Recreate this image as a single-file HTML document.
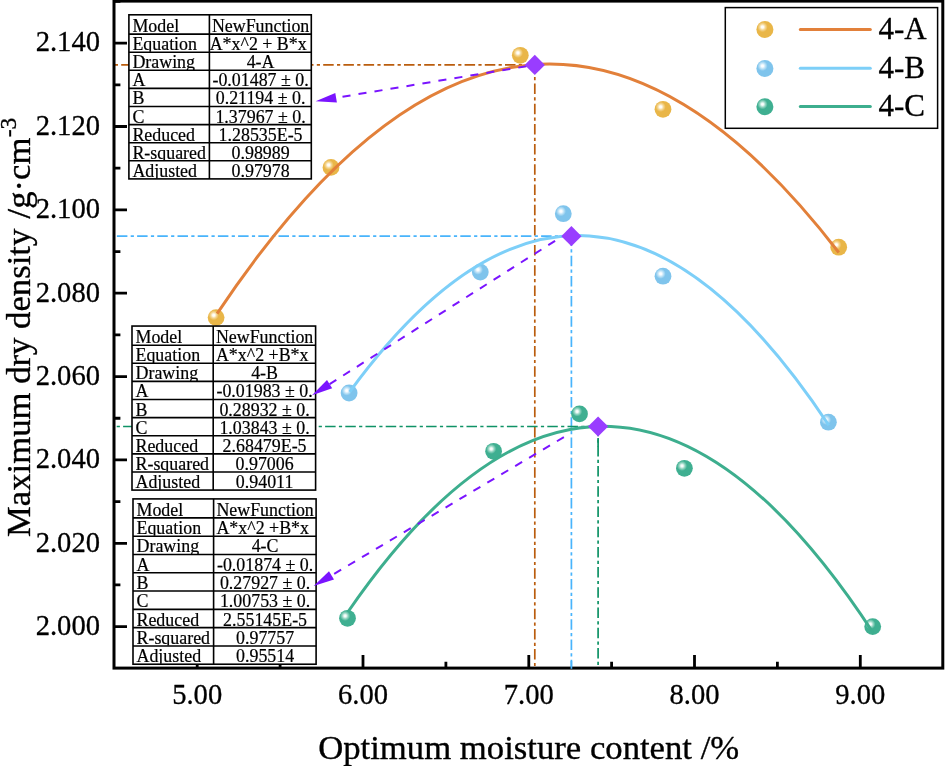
<!DOCTYPE html>
<html><head><meta charset="utf-8"><title>Compaction curves</title>
<style>
html,body{margin:0;padding:0;background:#fff}
svg{display:block;will-change:transform}
text{font-family:"Liberation Serif","Times New Roman",serif;fill:#000;stroke:#000;stroke-width:0.3px;stroke-linejoin:round}
.tk{font-size:28.6px}
.tb{font-size:17.9px;stroke-width:0.2px}
.lg{font-size:31px}
.ax{font-size:34.7px;stroke-width:0.35px}
</style></head><body>
<svg width="945" height="766" viewBox="0 0 945 766">
<defs>
<radialGradient id="gA" cx="0.36" cy="0.355" r="0.30"><stop offset="0" stop-color="#FFFFFF"/><stop offset="0.22" stop-color="#FFFDF6"/><stop offset="0.6" stop-color="#F4D590"/><stop offset="1" stop-color="#E9B648"/></radialGradient>
<radialGradient id="gB" cx="0.36" cy="0.355" r="0.30"><stop offset="0" stop-color="#FFFFFF"/><stop offset="0.22" stop-color="#F8FCFF"/><stop offset="0.6" stop-color="#B9E0F6"/><stop offset="1" stop-color="#7FC4EC"/></radialGradient>
<radialGradient id="gC" cx="0.36" cy="0.355" r="0.30"><stop offset="0" stop-color="#FFFFFF"/><stop offset="0.22" stop-color="#F2FBF8"/><stop offset="0.6" stop-color="#8FD3BF"/><stop offset="1" stop-color="#3FAF91"/></radialGradient>
</defs>
<rect width="945" height="766" fill="#fff"/>

<line x1="114.0" y1="64.9" x2="534.8" y2="64.9" stroke="#BA5D0E" stroke-width="1.7" stroke-dasharray="10.5 3.3 3.2 3.2" stroke-dashoffset="13.00"/>
<line x1="534.8" y1="64.9" x2="534.8" y2="669.1" stroke="#BA5D0E" stroke-width="1.7" stroke-dasharray="10.5 3.3 3.2 3.2" stroke-dashoffset="1.60"/>
<line x1="114.0" y1="236.2" x2="571.4" y2="236.2" stroke="#48B4FC" stroke-width="1.7" stroke-dasharray="10.5 3.3 3.2 3.2" stroke-dashoffset="17.30"/>
<line x1="571.4" y1="236.2" x2="571.4" y2="669.1" stroke="#48B4FC" stroke-width="1.7" stroke-dasharray="10.5 3.3 3.2 3.2" stroke-dashoffset="0.70"/>
<line x1="114.0" y1="426.5" x2="598.1" y2="426.5" stroke="#0F9266" stroke-width="1.7" stroke-dasharray="10.5 3.3 3.2 3.2" stroke-dashoffset="11.10"/>
<line x1="598.1" y1="426.5" x2="598.1" y2="669.1" stroke="#0F9266" stroke-width="1.7" stroke-dasharray="10.5 3.3 3.2 3.2" stroke-dashoffset="0.80"/>
<line x1="598.1" y1="438" x2="598.1" y2="446.5" stroke="#0F9266" stroke-width="1.7"/>
<circle cx="216.1" cy="317.6" r="8.4" fill="url(#gA)"/>
<circle cx="331" cy="167.4" r="8.4" fill="url(#gA)"/>
<circle cx="520.3" cy="55.3" r="8.4" fill="url(#gA)"/>
<circle cx="663" cy="109.3" r="8.4" fill="url(#gA)"/>
<circle cx="838.7" cy="247.2" r="8.4" fill="url(#gA)"/>
<circle cx="349.1" cy="393" r="8.4" fill="url(#gB)"/>
<circle cx="480.3" cy="272.1" r="8.4" fill="url(#gB)"/>
<circle cx="563.3" cy="213.7" r="8.4" fill="url(#gB)"/>
<circle cx="663" cy="276.2" r="8.4" fill="url(#gB)"/>
<circle cx="828.4" cy="422.2" r="8.4" fill="url(#gB)"/>
<circle cx="347.5" cy="618.3" r="8.4" fill="url(#gC)"/>
<circle cx="493.6" cy="451.3" r="8.4" fill="url(#gC)"/>
<circle cx="579.5" cy="413.9" r="8.4" fill="url(#gC)"/>
<circle cx="684.4" cy="468.3" r="8.4" fill="url(#gC)"/>
<circle cx="872.7" cy="626.6" r="8.4" fill="url(#gC)"/>
<path d="M217.09,313.62 Q527.93,-152.71 838.77,252.53" fill="none" stroke="#E2803A" stroke-width="3.0"/>
<path d="M349.72,391.82 Q589.27,63.38 828.82,425.25" fill="none" stroke="#7DCFF8" stroke-width="3.0"/>
<path d="M348.06,611.77 Q610.82,230.17 873.58,633.47" fill="none" stroke="#3DAE8E" stroke-width="3.0"/>
<rect x="114.0" y="1.1" width="828.8" height="667.0" fill="none" stroke="#000" stroke-width="3"/>
<path d="M114.0,626.65 h13 M114.0,543.29 h13 M114.0,459.93 h13 M114.0,376.57 h13 M114.0,293.21 h13 M114.0,209.85 h13 M114.0,126.49 h13 M114.0,43.13 h13 M114.0,584.97 h6.4 M114.0,501.61 h6.4 M114.0,418.25 h6.4 M114.0,334.89 h6.4 M114.0,251.53 h6.4 M114.0,168.17 h6.4 M114.0,84.81 h6.4 M114.0,1.45 h6.4 M197.2,668.1 v-13 M363.0,668.1 v-13 M528.8,668.1 v-13 M694.5,668.1 v-13 M860.3,668.1 v-13 M280.1,668.1 v-6.4 M445.9,668.1 v-6.4 M611.6,668.1 v-6.4 M777.4,668.1 v-6.4" stroke="#000" stroke-width="2.8" fill="none"/>
<text class="tk" x="100" y="634.9" text-anchor="end">2.000</text>
<text class="tk" x="100" y="551.5" text-anchor="end">2.020</text>
<text class="tk" x="100" y="468.2" text-anchor="end">2.040</text>
<text class="tk" x="100" y="384.8" text-anchor="end">2.060</text>
<text class="tk" x="100" y="301.5" text-anchor="end">2.080</text>
<text class="tk" x="100" y="218.1" text-anchor="end">2.100</text>
<text class="tk" x="100" y="134.7" text-anchor="end">2.120</text>
<text class="tk" x="100" y="51.4" text-anchor="end">2.140</text>
<text class="tk" x="197.2" y="703.8" text-anchor="middle">5.00</text>
<text class="tk" x="363.0" y="703.8" text-anchor="middle">6.00</text>
<text class="tk" x="528.8" y="703.8" text-anchor="middle">7.00</text>
<text class="tk" x="694.5" y="703.8" text-anchor="middle">8.00</text>
<text class="tk" x="860.3" y="703.8" text-anchor="middle">9.00</text>
<line x1="571.4" x2="571.4" y1="661" y2="668.8" stroke="#48B4FC" stroke-width="1.7"/>
<rect x="128.9" y="14.80" width="182.40" height="164.10" fill="#fff" stroke="#000" stroke-width="1.6"/>
<path d="M128.9,34.10 H311.3 M128.9,52.20 H311.3 M128.9,70.30 H311.3 M128.9,88.40 H311.3 M128.9,106.50 H311.3 M128.9,124.60 H311.3 M128.9,142.70 H311.3 M128.9,160.80 H311.3 M209.4,14.80 V178.90" stroke="#000" stroke-width="1.6" fill="none"/>
<clipPath id="c1"><rect x="128.9" y="14.80" width="182.40" height="18.90"/></clipPath>
<g clip-path="url(#c1)"><text class="tb" x="132.4" y="32.00">Model</text><text class="tb" x="260.6" y="32.00" text-anchor="middle">NewFunction</text></g>
<clipPath id="c2"><rect x="128.9" y="34.10" width="182.40" height="17.70"/></clipPath>
<g clip-path="url(#c2)"><text class="tb" x="132.4" y="50.10">Equation</text><text class="tb" x="258.2" y="50.10" text-anchor="middle">A*x^2 + B*x</text></g>
<clipPath id="c3"><rect x="128.9" y="52.20" width="182.40" height="17.70"/></clipPath>
<g clip-path="url(#c3)"><text class="tb" x="132.4" y="68.20">Drawing</text><text class="tb" x="260.6" y="68.20" text-anchor="middle">4-A</text></g>
<clipPath id="c4"><rect x="128.9" y="70.30" width="182.40" height="17.70"/></clipPath>
<g clip-path="url(#c4)"><text class="tb" x="132.4" y="86.30">A</text><text class="tb" x="260.6" y="86.30" text-anchor="middle">-0.01487 ± 0.</text></g>
<clipPath id="c5"><rect x="128.9" y="88.40" width="182.40" height="17.70"/></clipPath>
<g clip-path="url(#c5)"><text class="tb" x="132.4" y="104.40">B</text><text class="tb" x="260.6" y="104.40" text-anchor="middle">0.21194 ± 0.</text></g>
<clipPath id="c6"><rect x="128.9" y="106.50" width="182.40" height="17.70"/></clipPath>
<g clip-path="url(#c6)"><text class="tb" x="132.4" y="122.50">C</text><text class="tb" x="260.6" y="122.50" text-anchor="middle">1.37967 ± 0.</text></g>
<clipPath id="c7"><rect x="128.9" y="124.60" width="182.40" height="17.70"/></clipPath>
<g clip-path="url(#c7)"><text class="tb" x="132.4" y="140.60">Reduced</text><text class="tb" x="260.6" y="140.60" text-anchor="middle">1.28535E-5</text></g>
<clipPath id="c8"><rect x="128.9" y="142.70" width="182.40" height="17.70"/></clipPath>
<g clip-path="url(#c8)"><text class="tb" x="132.4" y="158.70">R-squared</text><text class="tb" x="260.6" y="158.70" text-anchor="middle">0.98989</text></g>
<clipPath id="c9"><rect x="128.9" y="160.80" width="182.40" height="17.70"/></clipPath>
<g clip-path="url(#c9)"><text class="tb" x="132.4" y="176.80">Adjusted</text><text class="tb" x="260.6" y="176.80" text-anchor="middle">0.97978</text></g>
<rect x="132.0" y="326.05" width="183.60" height="164.03" fill="#fff" stroke="#000" stroke-width="1.6"/>
<path d="M132.0,345.20 H315.6 M132.0,363.31 H315.6 M132.0,381.42 H315.6 M132.0,399.53 H315.6 M132.0,417.64 H315.6 M132.0,435.75 H315.6 M132.0,453.86 H315.6 M132.0,471.97 H315.6 M213.2,326.05 V490.08" stroke="#000" stroke-width="1.6" fill="none"/>
<clipPath id="c10"><rect x="132.0" y="326.05" width="183.60" height="18.75"/></clipPath>
<g clip-path="url(#c10)"><text class="tb" x="135.5" y="343.10">Model</text><text class="tb" x="264.6" y="343.10" text-anchor="middle">NewFunction</text></g>
<clipPath id="c11"><rect x="132.0" y="345.20" width="183.60" height="17.71"/></clipPath>
<g clip-path="url(#c11)"><text class="tb" x="135.5" y="361.21">Equation</text><text class="tb" x="262.2" y="361.21" text-anchor="middle">A*x^2 +B*x</text></g>
<clipPath id="c12"><rect x="132.0" y="363.31" width="183.60" height="17.71"/></clipPath>
<g clip-path="url(#c12)"><text class="tb" x="135.5" y="379.32">Drawing</text><text class="tb" x="264.6" y="379.32" text-anchor="middle">4-B</text></g>
<clipPath id="c13"><rect x="132.0" y="381.42" width="183.60" height="17.71"/></clipPath>
<g clip-path="url(#c13)"><text class="tb" x="135.5" y="397.43">A</text><text class="tb" x="264.6" y="397.43" text-anchor="middle">-0.01983 ± 0.</text></g>
<clipPath id="c14"><rect x="132.0" y="399.53" width="183.60" height="17.71"/></clipPath>
<g clip-path="url(#c14)"><text class="tb" x="135.5" y="415.54">B</text><text class="tb" x="264.6" y="415.54" text-anchor="middle">0.28932 ± 0.</text></g>
<clipPath id="c15"><rect x="132.0" y="417.64" width="183.60" height="17.71"/></clipPath>
<g clip-path="url(#c15)"><text class="tb" x="135.5" y="433.65">C</text><text class="tb" x="264.6" y="433.65" text-anchor="middle">1.03843 ± 0.</text></g>
<clipPath id="c16"><rect x="132.0" y="435.75" width="183.60" height="17.71"/></clipPath>
<g clip-path="url(#c16)"><text class="tb" x="135.5" y="451.76">Reduced</text><text class="tb" x="264.6" y="451.76" text-anchor="middle">2.68479E-5</text></g>
<clipPath id="c17"><rect x="132.0" y="453.86" width="183.60" height="17.71"/></clipPath>
<g clip-path="url(#c17)"><text class="tb" x="135.5" y="469.87">R-squared</text><text class="tb" x="264.6" y="469.87" text-anchor="middle">0.97006</text></g>
<clipPath id="c18"><rect x="132.0" y="471.97" width="183.60" height="17.71"/></clipPath>
<g clip-path="url(#c18)"><text class="tb" x="135.5" y="487.98">Adjusted</text><text class="tb" x="264.6" y="487.98" text-anchor="middle">0.94011</text></g>
<rect x="133.0" y="498.90" width="183.10" height="165.32" fill="#fff" stroke="#000" stroke-width="1.6"/>
<path d="M133.0,517.90 H316.1 M133.0,536.19 H316.1 M133.0,554.48 H316.1 M133.0,572.77 H316.1 M133.0,591.06 H316.1 M133.0,609.35 H316.1 M133.0,627.64 H316.1 M133.0,645.93 H316.1 M213.6,498.90 V664.22" stroke="#000" stroke-width="1.6" fill="none"/>
<clipPath id="c19"><rect x="133.0" y="498.90" width="183.10" height="18.60"/></clipPath>
<g clip-path="url(#c19)"><text class="tb" x="136.5" y="515.80">Model</text><text class="tb" x="265.1" y="515.80" text-anchor="middle">NewFunction</text></g>
<clipPath id="c20"><rect x="133.0" y="517.90" width="183.10" height="17.89"/></clipPath>
<g clip-path="url(#c20)"><text class="tb" x="136.5" y="534.09">Equation</text><text class="tb" x="262.7" y="534.09" text-anchor="middle">A*x^2 +B*x</text></g>
<clipPath id="c21"><rect x="133.0" y="536.19" width="183.10" height="17.89"/></clipPath>
<g clip-path="url(#c21)"><text class="tb" x="136.5" y="552.38">Drawing</text><text class="tb" x="265.1" y="552.38" text-anchor="middle">4-C</text></g>
<clipPath id="c22"><rect x="133.0" y="554.48" width="183.10" height="17.89"/></clipPath>
<g clip-path="url(#c22)"><text class="tb" x="136.5" y="570.67">A</text><text class="tb" x="265.1" y="570.67" text-anchor="middle">-0.01874 ± 0.</text></g>
<clipPath id="c23"><rect x="133.0" y="572.77" width="183.10" height="17.89"/></clipPath>
<g clip-path="url(#c23)"><text class="tb" x="136.5" y="588.96">B</text><text class="tb" x="265.1" y="588.96" text-anchor="middle">0.27927 ± 0.</text></g>
<clipPath id="c24"><rect x="133.0" y="591.06" width="183.10" height="17.89"/></clipPath>
<g clip-path="url(#c24)"><text class="tb" x="136.5" y="607.25">C</text><text class="tb" x="265.1" y="607.25" text-anchor="middle">1.00753 ± 0.</text></g>
<clipPath id="c25"><rect x="133.0" y="609.35" width="183.10" height="17.89"/></clipPath>
<g clip-path="url(#c25)"><text class="tb" x="136.5" y="625.54">Reduced</text><text class="tb" x="265.1" y="625.54" text-anchor="middle">2.55145E-5</text></g>
<clipPath id="c26"><rect x="133.0" y="627.64" width="183.10" height="17.89"/></clipPath>
<g clip-path="url(#c26)"><text class="tb" x="136.5" y="643.83">R-squared</text><text class="tb" x="265.1" y="643.83" text-anchor="middle">0.97757</text></g>
<clipPath id="c27"><rect x="133.0" y="645.93" width="183.10" height="17.89"/></clipPath>
<g clip-path="url(#c27)"><text class="tb" x="136.5" y="662.12">Adjusted</text><text class="tb" x="265.1" y="662.12" text-anchor="middle">0.95514</text></g>
<line x1="526.3" y1="66.3" x2="336.1" y2="97.8" stroke="#7A14FF" stroke-width="2" stroke-dasharray="8.1 8.1" stroke-dashoffset="0"/>
<polygon points="315.61074304646286,101.1806654556237 335.3,92.9 336.9,102.6" fill="#7A14FF"/>
<line x1="555.1" y1="240.8" x2="329.6" y2="384.1" stroke="#7A14FF" stroke-width="2" stroke-dasharray="8.1 8.1" stroke-dashoffset="0"/>
<polygon points="312.0247498253614,395.2289955729965 327.0,379.9 332.2,388.2" fill="#7A14FF"/>
<line x1="563.9" y1="437.1" x2="331.5" y2="575.4" stroke="#7A14FF" stroke-width="2" stroke-dasharray="8.1 8.1" stroke-dashoffset="0"/>
<polygon points="313.6124792336628,586.0090418020876 329.0,571.2 334.0,579.6" fill="#7A14FF"/>
<polygon points="534.8,54.800000000000004 544.9,64.9 534.8,75.0 524.6999999999999,64.9" fill="#993DFF"/>
<polygon points="571.4,226.1 581.5,236.2 571.4,246.29999999999998 561.3,236.2" fill="#993DFF"/>
<polygon points="598.1,416.4 608.2,426.5 598.1,436.6 588.0,426.5" fill="#993DFF"/>
<text class="ax" x="528.7" y="758.7" text-anchor="middle">Optimum moisture content /%</text>
<text class="ax" transform="translate(30,537) rotate(-90)">Maximum dry density<tspan dx="1.6"> /g·cm</tspan><tspan font-size="23.5px" dy="-13.7" dx="0.3">-3</tspan></text>
<rect x="725.3" y="7.6" width="212.3" height="120.7" fill="#fff" stroke="#000" stroke-width="1.5"/>
<circle cx="764.9" cy="29.5" r="8.5" fill="url(#gA)"/>
<line x1="800.3" x2="870.3" y1="29.4" y2="29.4" stroke="#E2803A" stroke-width="3" stroke-linecap="round"/>
<text class="lg" x="878.4" y="39.2">4-A</text>
<circle cx="764.9" cy="68.39999999999999" r="8.5" fill="url(#gB)"/>
<line x1="800.3" x2="870.3" y1="68.3" y2="68.3" stroke="#7DCFF8" stroke-width="3" stroke-linecap="round"/>
<text class="lg" x="878.4" y="78.1">4-B</text>
<circle cx="764.9" cy="106.7" r="8.5" fill="url(#gC)"/>
<line x1="800.3" x2="870.3" y1="106.60000000000001" y2="106.60000000000001" stroke="#3DAE8E" stroke-width="3" stroke-linecap="round"/>
<text class="lg" x="878.4" y="116.4">4-C</text>
</svg></body></html>
